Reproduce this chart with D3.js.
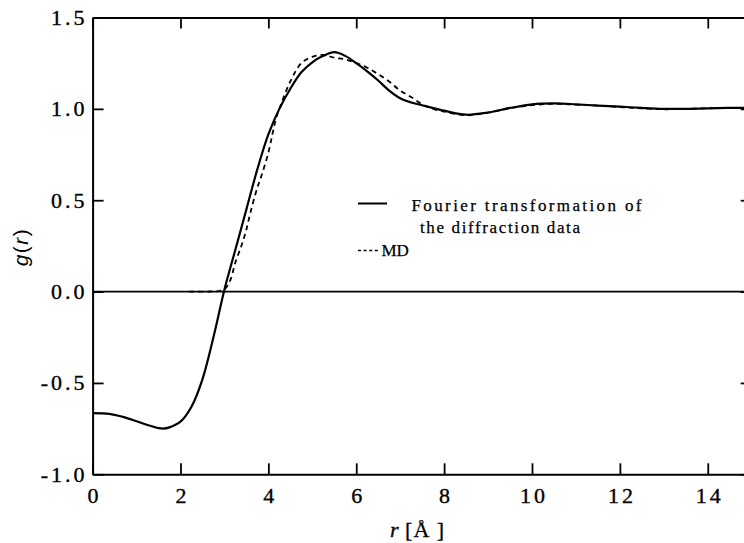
<!DOCTYPE html>
<html><head><meta charset="utf-8">
<script src="https://cdn.jsdelivr.net/npm/d3@7"></script>
<style>
html,body{margin:0;padding:0;background:#fff;}
svg{display:block;}
.serif{font-family:"Liberation Serif","DejaVu Serif",serif;}
</style></head>
<body>
<svg id="chart" width="744" height="543"></svg>
<script>
// ---- data ----
const ftR = [0,0.25,0.5,0.75,1.0,1.25,1.5,1.6,1.75,2.0,2.25,2.5,2.75,3.0,3.25,3.5,3.75,4.0,4.25,4.5,4.75,5.0,5.25,5.5,5.75,6.0,6.25,6.5,6.75,7.0,7.25,7.5,8.0,8.5,9.0,9.5,10.0,10.5,11.0,11.5,12.0,12.5,13.0,13.5,14.0,14.5,15.0];
const ftG = [-0.665,-0.667,-0.675,-0.69,-0.71,-0.73,-0.747,-0.75,-0.743,-0.712,-0.63,-0.48,-0.25,0.01,0.23,0.45,0.67,0.86,1.0,1.11,1.20,1.255,1.29,1.31,1.29,1.25,1.205,1.155,1.10,1.058,1.035,1.02,0.99,0.968,0.98,1.005,1.025,1.03,1.025,1.018,1.012,1.005,1.0,1.0,1.003,1.005,1.005];
const mdR = [2.2,2.6,2.9,3.0,3.13,3.25,3.4,3.5,3.6,3.75,3.81,4.0,4.1,4.19,4.25,4.5,4.75,5.0,5.25,5.5,5.75,6.0,6.25,6.5,6.75,7.0,7.25,7.5,7.75,8.0,8.5,9.0,9.5,10.0,10.5,11.0,11.5,12.0,12.5,13.0,13.5,14.0,14.5,15.0];
const mdG = [0,0,0.004,0.012,0.06,0.16,0.26,0.34,0.44,0.57,0.61,0.76,0.87,0.96,1.0,1.15,1.25,1.285,1.295,1.28,1.27,1.25,1.225,1.19,1.15,1.10,1.065,1.025,1.0,0.985,0.965,0.98,1.003,1.02,1.028,1.023,1.018,1.01,1.003,0.998,1.0,1.003,1.005,1.005];
const xTicks = [0,2,4,6,8,10,12,14];
const xTickLabels = ["0","2","4","6","8","10","12","14"];
const yTicks = [-1.0,-0.5,0.0,0.5,1.0,1.5];
const yTickLabels = ["-1.0","-0.5","0.0","0.5","1.0","1.5"];
const legendLabels = [["Fourier transformation of","the diffraction data"],["MD"]];

// ---- layout ----
const svg = d3.select("#chart");
const x = d3.scaleLinear().domain([0,15]).range([92.6,751.7]);
const y = d3.scaleLinear().domain([-1.0,1.5]).range([474.3,17.5]);
const X0 = x.range()[0], X1 = x.range()[1], Y0 = y.range()[0], Y1 = y.range()[1];

svg.append("defs").append("clipPath").attr("id","clip")
  .append("rect").attr("x",X0).attr("y",Y1).attr("width",X1-X0).attr("height",Y0-Y1);

const serif = "Liberation Serif, DejaVu Serif, serif";

// zero line
svg.append("line").attr("x1",x(0)).attr("x2",x(15)).attr("y1",y(0)).attr("y2",y(0))
  .attr("stroke","#000").attr("stroke-width",1.8);

// axes
function styleAxis(g){
  g.attr("font-family",serif).attr("font-size",22);
  g.selectAll("path.domain").attr("stroke","#000").attr("stroke-width",2);
  g.selectAll(".tick line").attr("stroke","#000").attr("stroke-width",1.8);
  g.selectAll(".tick text").attr("fill","#000").attr("class","serif").attr("font-size",22)
    .attr("stroke","#000").attr("stroke-width",0.35);
}
const gB = svg.append("g").attr("transform",`translate(0,${Y0})`)
  .call(d3.axisBottom(x).tickValues(xTicks).tickFormat((d,i)=>xTickLabels[i]).tickSizeInner(-11).tickSizeOuter(0).tickPadding(13));
styleAxis(gB);
gB.selectAll(".tick text").attr("letter-spacing","3px").attr("dx","1.5px");

const gT = svg.append("g").attr("transform",`translate(0,${Y1})`)
  .call(d3.axisTop(x).tickValues(xTicks).tickFormat("").tickSizeInner(-11).tickSizeOuter(0));
styleAxis(gT);

const gL = svg.append("g").attr("transform",`translate(${X0},0)`)
  .call(d3.axisLeft(y).tickValues(yTicks).tickFormat((d,i)=>yTickLabels[i]).tickSizeInner(-11).tickSizeOuter(0).tickPadding(5));
styleAxis(gL);
gL.selectAll(".tick text").attr("letter-spacing","3px");

const gR = svg.append("g").attr("transform",`translate(${X1},0)`)
  .call(d3.axisRight(y).tickValues(yTicks).tickFormat("").tickSizeInner(-11).tickSizeOuter(0));
styleAxis(gR);

// curves
const line = d3.line().x(d=>x(d[0])).y(d=>y(d[1])).curve(d3.curveCatmullRom.alpha(0.5));
const plot = svg.append("g").attr("clip-path","url(#clip)");
plot.append("path").datum(mdR.map((r,i)=>[r,mdG[i]])).attr("d",line)
  .attr("fill","none").attr("stroke","#000").attr("stroke-width",1.8).attr("stroke-dasharray","5,4");
plot.append("path").datum(ftR.map((r,i)=>[r,ftG[i]])).attr("d",line)
  .attr("fill","none").attr("stroke","#000").attr("stroke-width",2.2);

// legend
const lg = svg.append("g");
lg.append("line").attr("x1",358).attr("x2",387).attr("y1",203.5).attr("y2",203.5).attr("stroke","#000").attr("stroke-width",2);
lg.append("line").attr("x1",358).attr("x2",378).attr("y1",250.5).attr("y2",250.5).attr("stroke","#000").attr("stroke-width",1.6).attr("stroke-dasharray","3,2.6");
function addText(tx,ty,s,len){
  const t = lg.append("text").attr("x",tx).attr("y",ty).text(s).attr("fill","#000")
    .attr("class","serif").attr("font-size",17).attr("stroke","#000").attr("stroke-width",0.25);
  if(len){ t.attr("textLength",len).attr("lengthAdjust","spacing"); }
}
addText(411.5,210.5,legendLabels[0][0],230);
addText(420,233,legendLabels[0][1],160);
addText(381.5,256,legendLabels[1][0],null);

// axis titles
const xt = svg.append("text").attr("x",390).attr("y",537).attr("fill","#000")
  .attr("class","serif").attr("font-size",22).attr("stroke","#000").attr("stroke-width",0.3);
xt.append("tspan").text("r").attr("font-style","italic");
xt.append("tspan").text(" [Å ]").attr("letter-spacing","1px");

const yt = svg.append("text").attr("transform","translate(28,247) rotate(-90)")
  .attr("text-anchor","middle").attr("fill","#000")
  .attr("font-family","Liberation Sans, Arial, sans-serif").attr("font-size",21).attr("letter-spacing","1.5px");
yt.append("tspan").text("g").attr("font-style","italic");
yt.append("tspan").text("(");
yt.append("tspan").text("r").attr("font-style","italic");
yt.append("tspan").text(")");
</script>
</body></html>
